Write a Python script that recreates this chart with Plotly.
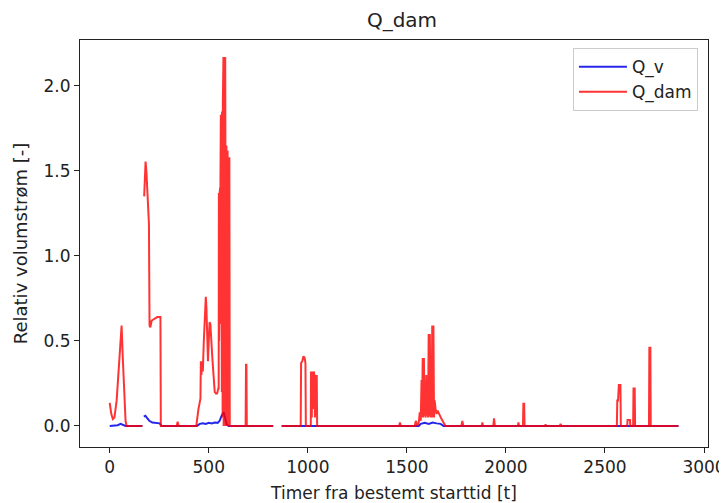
import plotly.graph_objects as go

# ---- data ----
t_v = [0, 20, 40, 55, 65, 80, 120, 165, 166, 172, 180, 190, 200, 215, 235, 252, 262, 300, 440,
       455, 470, 485, 500, 515, 530, 545, 555, 565, 575, 582, 590, 600, 700, 825, 826, 868, 1000,
       1200, 1400, 1560, 1570, 1590, 1610, 1630, 1650, 1670, 1685, 1900, 2200, 2500, 2871]
q_v = [0.0, 0.002, 0.004, 0.012, 0.006, 0.0, 0.0, 0.0, None, 0.055, 0.06, 0.045, 0.03, 0.02,
       0.016, 0.015, 0.0, 0.0, 0.0, 0.012, 0.016, 0.012, 0.018, 0.014, 0.02, 0.018, 0.03, 0.06,
       0.08, 0.05, 0.01, 0.0, 0.0, 0.0, None, 0.0, 0.0, 0.0, 0.0, 0.0, 0.012, 0.018,
       0.012, 0.02, 0.015, 0.012, 0.0, 0.0, 0.0, 0.0, 0.0]

t_dam = [0, 8, 16, 24, 35, 45, 55, 60, 66, 72, 80, 85, 120, 165, 169,
         174, 176, 178, 181, 185, 190, 195, 198, 201, 205, 212, 225, 240, 250, 256, 258,
         300, 338, 343, 348, 400, 437, 448, 455, 458, 460, 463, 466, 470, 475, 480, 485, 488,
         492, 496, 500, 504, 508, 512, 518, 524, 530, 536, 542, 548,
         550, 551, 552, 553, 554, 555, 556, 557, 558, 559, 560, 561, 562, 563, 564, 565, 566,
         567, 568, 569, 570, 571, 572, 574, 575, 577, 578, 580, 581, 583, 584, 586, 587, 589,
         590, 592, 593, 595, 596, 598, 599, 601, 602, 604, 606,
         686, 688, 690, 692, 825, 826,
         868, 900, 964, 966, 972, 978, 984, 988, 990, 1015, 1016, 1020, 1023, 1026, 1030, 1033,
         1036, 1039, 1042, 1045, 1047,
         1300, 1461, 1465, 1470, 1540, 1545, 1552, 1560, 1565, 1570, 1574, 1576, 1580, 1583,
         1586, 1589, 1592, 1595, 1598, 1601, 1604, 1607, 1610, 1613, 1616, 1619, 1622, 1625,
         1628, 1631, 1634, 1637, 1640, 1645, 1650, 1655, 1665, 1675, 1685, 1695,
         1775, 1780, 1785, 1878, 1881, 1884, 1936, 1940, 1944, 2060, 2063, 2066, 2086, 2088,
         2092, 2094, 2198, 2200, 2202, 2272, 2276, 2280,
         2560, 2562, 2566, 2570, 2578, 2580, 2612, 2614, 2626, 2628, 2642, 2644, 2650, 2652,
         2722, 2724, 2729, 2731, 2871]
q_dam = [0.135, 0.07, 0.04, 0.05, 0.15, 0.32, 0.52, 0.59, 0.4, 0.2, 0.03, 0.0, 0.0, 0.0, None,
         1.35, 1.42, 1.38, 1.555, 1.5, 1.38, 1.25, 1.19, 0.59, 0.58, 0.62, 0.63, 0.64, 0.64, 0.64, 0.0,
         0.0, 0.0, 0.025, 0.0, 0.0, 0.0, 0.1, 0.14, 0.16, 0.38, 0.3, 0.38, 0.32, 0.5, 0.6, 0.76, 0.7,
         0.45, 0.38, 0.5, 0.61, 0.6, 0.5, 0.4, 0.3, 0.2, 0.19, 0.19, 0.22,
         0.22, 1.37, 0.5, 1.37, 0.7, 1.37, 0.9, 1.4, 0.9, 1.45, 0.85, 1.83, 0.6, 1.83, 0.4, 1.83, 0.2,
         1.85, 0.1, 1.85, 0.05, 1.9, 0.0, 2.17, 0.0, 2.17, 0.0, 2.17, 0.0, 2.17, 0.0, 2.17, 0.0, 1.65,
         0.0, 1.65, 0.0, 1.62, 0.0, 1.58, 0.0, 1.58, 0.0, 1.58, 0.0,
         0.0, 0.36, 0.36, 0.0, 0.0, None,
         0.0, 0.0, 0.0, 0.37, 0.38, 0.41, 0.4, 0.37, 0.0, 0.0, 0.32, 0.05, 0.32, 0.1, 0.32, 0.3,
         0.05, 0.3, 0.1, 0.3, 0.0,
         0.0, 0.0, 0.02, 0.0, 0.0, 0.03, 0.0, 0.02, 0.08, 0.03, 0.27, 0.05, 0.40, 0.05,
         0.40, 0.06, 0.20, 0.05, 0.30, 0.06, 0.20, 0.05, 0.54, 0.06, 0.54, 0.05, 0.30, 0.05,
         0.59, 0.05, 0.59, 0.05, 0.15, 0.1, 0.07, 0.09, 0.06, 0.04, 0.02, 0.0,
         0.0, 0.03, 0.0, 0.0, 0.02, 0.0, 0.0, 0.045, 0.0, 0.0, 0.02, 0.0, 0.0, 0.13,
         0.13, 0.0, 0.0, 0.01, 0.0, 0.0, 0.012, 0.0,
         0.0, 0.15, 0.15, 0.24, 0.24, 0.0, 0.0, 0.035, 0.035, 0.0, 0.0, 0.22, 0.22, 0.0,
         0.0, 0.46, 0.46, 0.0, 0.0]

x_ticks = [0, 500, 1000, 1500, 2000, 2500, 3000]
y_ticks = [0.0, 0.5, 1.0, 1.5, 2.0]

FONT = "DejaVu Sans"
TXT = "#222222"

fig = go.Figure()
fig.add_trace(go.Scatter(x=t_v, y=q_v, mode="lines", name="Q_v",
                         line=dict(color="rgba(0,0,230,0.85)", width=2), connectgaps=False))
fig.add_trace(go.Scatter(x=t_dam, y=q_dam, mode="lines", name="Q_dam",
                         line=dict(color="rgba(255,0,0,0.8)", width=2), connectgaps=False))

axis_common = dict(showgrid=False, zeroline=False, showline=True, linecolor="#222222",
                   linewidth=1, mirror=True, ticks="outside", ticklen=5, tickwidth=1,
                   tickcolor="#222222", tickfont=dict(family=FONT, size=17, color=TXT))

# page body has an 8px margin: figure size/margins compensate so the plot area lands
# at x 80..708, y 40..447 of the 727x503 window
fig.update_layout(
    width=719, height=495,
    margin=dict(l=72, r=19, t=32, b=56),
    paper_bgcolor="white", plot_bgcolor="white",
    title=dict(text="Q_dam", x=0.548, xanchor="center", y=0.976, yanchor="middle",
               font=dict(family=FONT, size=20, color=TXT)),
    xaxis=dict(range=[-150, 3020], tickvals=x_ticks, ticktext=[str(v) for v in x_ticks],
               title=dict(text="Timer fra bestemt starttid [t]", standoff=11,
                          font=dict(family=FONT, size=17, color=TXT)),
               automargin=False, **axis_common),
    yaxis=dict(range=[-0.124, 2.27], tickvals=y_ticks, ticktext=[f"{v:.1f}" for v in y_ticks],
               title=dict(text="Relativ volumstrøm [-]", standoff=11,
                          font=dict(family=FONT, size=18, color=TXT)),
               automargin=False, **axis_common),
    legend=dict(x=0.984, y=0.98, xanchor="right", yanchor="top", itemwidth=48,
                bgcolor="rgba(255,255,255,0.8)", bordercolor="#cccccc", borderwidth=1,
                font=dict(family=FONT, size=17, color=TXT)),
    showlegend=True,
)

fig.write_html("out.html")
